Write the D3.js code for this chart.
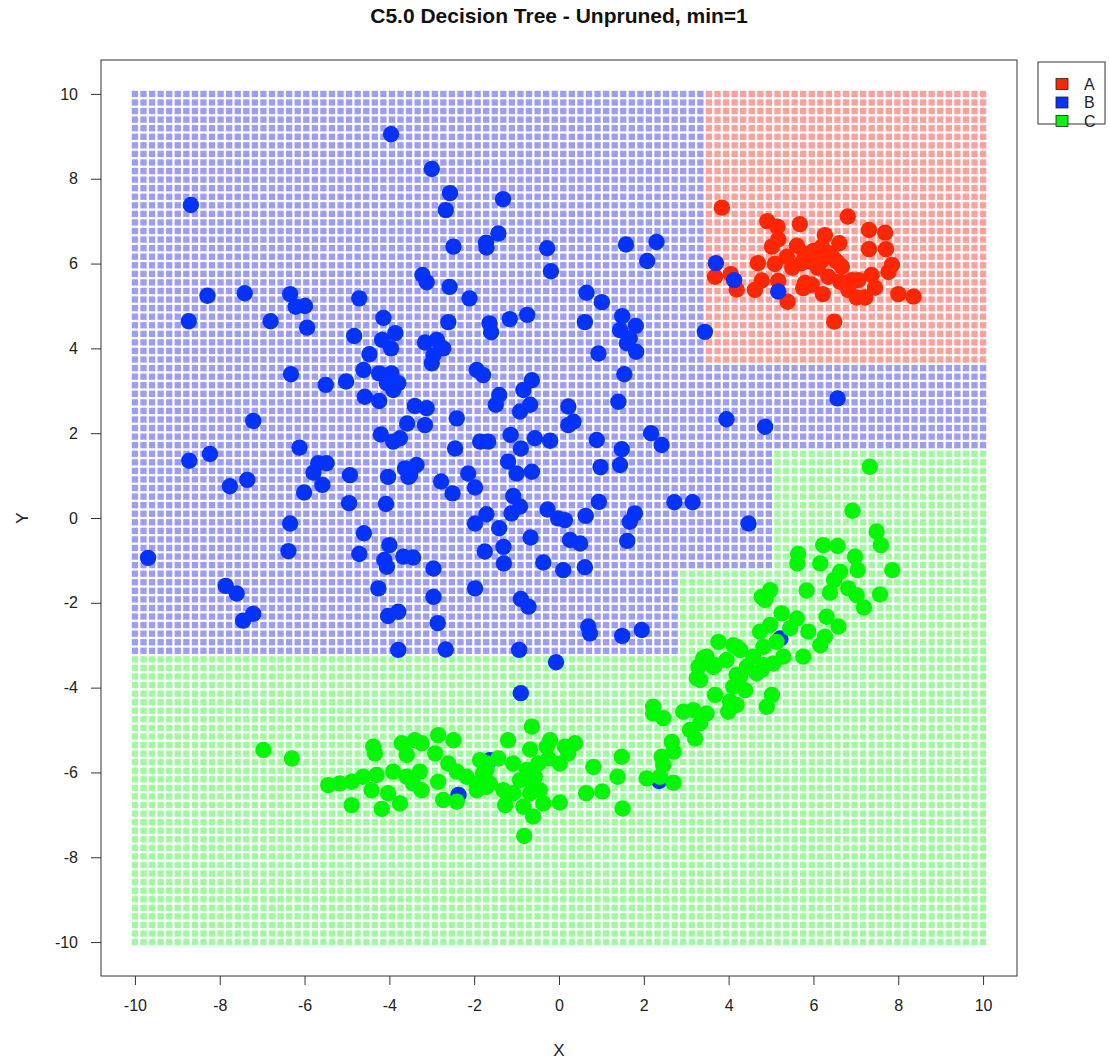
<!DOCTYPE html>
<html>
<head>
<meta charset="utf-8">
<script src="https://cdn.jsdelivr.net/npm/d3@7"></script>
<style>
  body { margin: 0; background: #fff; }
  svg { display: block; font-family: "Liberation Sans", Arial, Helvetica, sans-serif; }
</style>
</head>
<body>
<svg id="chart" width="1109" height="1063"></svg>
<script>
// ---- classes and colours ----
const classes = ["A", "B", "C"];
const pointColors = ["#ff2600", "#0433ff", "#00f900"];
const regionColors = ["#ff9f99", "#9c9cff", "#9cfc9c"];

// ---- axis ticks ----
const xTicks = [-10, -8, -6, -4, -2, 0, 2, 4, 6, 8, 10];
const yTicks = [-10, -8, -6, -4, -2, 0, 2, 4, 6, 8, 10];

// ---- split thresholds of the fitted tree ----
const splitTopX = 3.43;    // A vs B above splitTopY
const splitTopY = 3.62;
const splitBandY = 1.6;    // B band across the full width
const splitMidY = -1.2;
const splitMidX = 5.05;
const splitLowY = -3.23;
const splitLowX = 2.83;

// ---- observations ----
const aX = [3.84, 3.68, 4.05, 4.19, 4.91, 5.15, 5.17, 5.02, 5.68, 4.69, 5.09, 5.37, 5.61, 5.80, 5.72, 5.92, 4.78, 4.62, 5.17, 5.39, 5.80, 5.96, 5.76, 6.22, 6.27, 6.20, 6.39, 6.61, 6.20, 6.55, 6.67, 6.35, 6.81, 6.90, 6.82, 7.02, 7.22, 7.37, 7.45, 7.31, 7.69, 7.31, 7.71, 7.85, 7.77, 8.00, 8.36, 6.49, 6.63, 7.06, 6.00, 6.10, 5.50, 6.45];
const aY = [7.32, 5.69, 5.75, 5.39, 7.00, 6.87, 6.57, 6.40, 6.93, 6.01, 5.99, 6.16, 6.42, 6.23, 6.01, 6.05, 5.60, 5.38, 5.59, 5.10, 5.54, 5.50, 5.42, 5.28, 6.67, 6.40, 6.24, 6.48, 6.08, 6.05, 5.93, 5.69, 7.11, 5.61, 5.38, 5.20, 5.20, 5.73, 5.43, 6.79, 6.73, 6.34, 6.34, 5.97, 5.80, 5.28, 5.22, 4.63, 5.57, 5.61, 6.30, 5.90, 5.90, 6.15];

const bX = [-3.96, -8.68, -8.29, -7.41, -8.73, -6.80, -6.34, -6.21, -5.99, -5.94, -4.71, -4.14, -4.83, -3.86, -4.17, -3.96, -4.47,
  -3.00, -2.57, -2.67, -1.32, -2.49, -1.43, -1.72, -1.71, -0.28, -0.19, 1.58, 2.30, 2.08, -3.22, -3.12, -2.58, -2.11, -2.61, -1.64, -1.60, -1.16, -0.75, 0.65, 1.01, 0.61, 1.49, 1.81, 1.44, 1.67, 1.60, 1.82, 0.93, -3.16, -2.88, -2.73, -2.96,
  3.70, 4.13, 5.17, 3.44,
  -6.32, -5.50, -5.02, -4.61, -4.24, -3.95, -4.06, -3.79, -3.91, -4.58, -4.24, -3.40, -3.58, -7.21, -4.20, -3.91, -3.75, -6.12, -8.72, -8.23, -5.68, -5.48, -5.79, -5.58, -6.01, -4.93, -4.03, -3.63, -3.36, -3.55, -7.35, -7.76, -4.95, -4.08, -6.34, -6.38, -4.60, -4.71, -4.00, -4.12, -4.06, -3.67, -3.44, -4.26, -9.69, -7.86, -7.60,
  -3.00, -1.94, -1.79, 1.54, 1.40, -0.64, -0.84, -1.41, -1.49, -0.68, -0.92, 0.22, 0.34, 0.22, -3.12, -3.16, -2.41, -2.45, -1.86, -1.67, -1.14, -0.90, -0.57, -0.21, 0.89, 2.17, 2.42, 1.48, 1.44, 0.98, -3.51, -1.20, -1.00, -0.64, -2.14, -1.98, -2.78, -2.51, -1.08, -0.92, -1.12, -1.71, -1.98, -1.41, -0.27, -0.02, 0.14, 0.63, 0.94, 1.79, 1.67, 1.61, 2.72, 3.15, -0.67, 0.26, 0.50, -1.31, -1.75, -1.30, -0.37, 0.10, 0.61, -2.96, -1.98, -2.96, -0.90,
  6.57, 3.95, 4.86, 4.47,
  -7.21, -7.45, -3.79, -4.03, -2.86, -3.79, -2.67, -2.37,
  -0.72, 0.69, 0.73, 1.49, 1.95, -0.94, -0.07, -0.90, -1.63, 2.36, 5.22];
const bY = [9.05, 7.38, 5.24, 5.30, 4.64, 4.64, 5.28, 4.98, 5.00, 4.49, 5.18, 4.72, 4.29, 4.36, 4.20, 4.00, 3.86,
  8.23, 7.66, 7.26, 7.52, 6.40, 6.71, 6.49, 6.38, 6.36, 5.82, 6.45, 6.51, 6.06, 5.73, 5.56, 5.45, 5.18, 4.62, 4.59, 4.38, 4.69, 4.79, 5.31, 5.09, 4.62, 4.76, 4.53, 4.43, 4.24, 4.12, 3.92, 3.88, 4.14, 4.20, 4.00, 3.84,
  6.01, 5.61, 5.34, 4.39,
  3.39, 3.14, 3.22, 3.49, 3.41, 3.41, 3.18, 3.18, 3.02, 2.86, 2.76, 2.64, 2.23, 2.29, 1.97, 1.80, 1.88, 1.66, 1.35, 1.51, 1.29, 1.29, 1.07, 0.78, 0.60, 1.01, 0.97, 1.17, 1.25, 0.97, 0.90, 0.75, 0.35, 0.33, -0.13, -0.78, -0.36, -0.85, -0.64, -0.99, -1.15, -0.91, -0.93, -1.66, -0.94, -1.60, -1.78,
  3.65, 3.49, 3.37, 3.39, 2.74, 3.25, 3.02, 2.90, 2.67, 2.67, 2.51, 2.63, 2.27, 2.19, 2.59, 2.19, 2.35, 1.64, 1.80, 1.80, 1.96, 1.64, 1.88, 1.82, 1.84, 2.00, 1.72, 1.62, 1.25, 1.20, 1.01, 1.33, 1.05, 1.09, 1.05, 0.72, 0.86, 0.58, 0.52, 0.27, 0.11, 0.09, -0.13, -0.24, 0.20, -0.01, -0.05, 0.05, 0.38, 0.11, -0.09, -0.54, 0.37, 0.37, -0.46, -0.52, -0.60, -0.68, -0.79, -1.07, -1.05, -1.23, -1.16, -1.19, -1.66, -1.86, -1.91,
  2.82, 2.33, 2.15, -0.13,
  -2.26, -2.42, -2.21, -2.31, -2.48, -3.11, -3.10, -6.53,
  -2.09, -2.56, -2.72, -2.78, -2.64, -3.11, -3.40, -4.13, -5.71, -6.20, -2.84];

const cX = [7.33, 6.92, 7.49, 7.59, 6.23, 6.57, 5.64, 5.62, 6.16, 6.98, 7.04, 7.86, 6.63, 6.49, 4.98, 4.78, 5.84, 6.39, 6.82, 7.02, 7.57,
  7.19, 4.86, 6.31, 6.59, 5.25, 5.61, 5.45, 5.88, 6.16, 6.27, 5.76, 4.98, 4.74, 5.13, 5.29, 5.05, 4.82, 4.58, 4.43, 4.19, 3.76, 3.40, 3.33, 3.64, 3.95, 4.27, 4.66, 4.82, 4.11, 4.39, 3.68, 5.02,
  4.11, 4.27, 3.48, 3.29, 3.25, 3.68, 4.19, 4.78, 4.90, 3.99, 4.03, 4.19, 2.22, 2.46, 2.22, 2.93, 3.17, 3.48, 3.33, 3.09, 3.21, 2.66, 2.70, 2.42, 2.46, 2.07, 2.70, 2.38, 1.48, 0.81, 1.38, 0.64, 1.02, 1.50,
  -0.64, -1.20, -0.21, -0.68, 0.38, 0.22, 0.02, -0.25, -0.49, -0.76, -1.08, -1.43, -1.71, -1.63, -1.31, -1.08, -0.61, -0.45, -0.37, -0.84, -0.61, 0.02, -0.82, -1.27, -0.68, -0.29, 0.14, -0.57, -0.92,
  -6.97, -6.30, -5.44, -5.17, -4.89, -4.62, -4.30, -4.89, -4.42, -4.03, -4.18, -3.75, -4.38, -4.34, -3.91, -3.59, -3.28, -3.44, -3.71, -3.40, -3.59, -3.24, -2.85, -2.49, -2.92, -2.85, -3.24, -2.61, -2.41, -2.18, -1.86, -1.94, -1.71, -1.94, -2.73, -2.41, -1.71, -1.79];
const cY = [1.21, 0.17, -0.32, -0.64, -0.64, -0.66, -0.85, -1.07, -1.07, -0.91, -1.23, -1.23, -1.27, -1.46, -1.70, -1.86, -1.71, -1.76, -1.66, -1.82, -1.80,
  -2.11, -1.93, -2.33, -2.56, -2.25, -2.37, -2.60, -2.68, -3.00, -2.80, -3.27, -2.52, -2.68, -2.92, -3.27, -3.43, -3.04, -3.27, -3.51, -3.04, -2.92, -3.31, -3.82, -3.51, -3.35, -3.74, -3.66, -3.47, -3.98, -4.06, -4.17, -4.17,
  -3.00, -3.11, -3.27, -3.51, -3.78, -3.47, -3.70, -3.58, -4.45, -4.57, -4.33, -4.41, -4.45, -4.72, -4.61, -4.57, -4.53, -4.61, -4.84, -5.00, -5.20, -5.28, -5.51, -5.63, -5.83, -6.14, -6.24, -6.10, -5.63, -5.87, -6.10, -6.49, -6.45, -6.85,
  -4.92, -5.24, -5.24, -5.46, -5.31, -5.55, -5.79, -5.67, -5.79, -5.94, -5.79, -5.67, -5.94, -6.26, -6.42, -6.49, -6.26, -6.42, -6.73, -6.81, -7.04, -6.71, -7.50, -6.77, -6.49, -5.39, -5.39, -6.10, -6.18,
  -5.47, -5.67, -6.30, -6.26, -6.22, -6.10, -6.06, -6.77, -6.42, -6.49, -6.86, -6.73, -5.39, -5.55, -5.98, -6.10, -5.98, -6.26, -5.31, -5.24, -5.59, -5.31, -5.12, -5.24, -5.55, -6.22, -6.42, -5.79, -5.98, -6.10, -5.71, -6.26, -6.34, -6.42, -6.65, -6.69, -5.79, -6.02];

// ---- layout ----
const plotL = 101, plotR = 1017, plotT = 60, plotB = 976;

const svg = d3.select("#chart");
const x = d3.scaleLinear().domain([-10.8, 10.8]).range([plotL, plotR]);
const y = d3.scaleLinear().domain([-10.8, 10.8]).range([plotB, plotT]);

// Predicted class of the tree at a location (index into classes).
function predict(px, py) {
  if (py < splitLowY) return 2;
  if (py > splitTopY && px > splitTopX) return 0;
  if (py > splitBandY) return 1;
  if (py > splitMidY) return px < splitMidX ? 1 : 2;
  return px < splitLowX ? 1 : 2;
}

// ---- prediction lattice: 100 x 100 evaluation points over [-10, 10] ----
const lattice = d3.range(100).map(i => -10 + i * 20 / 99);
const cells = [];
lattice.forEach(gx => lattice.forEach(gy => cells.push({ gx, gy, k: predict(gx, gy) })));

const cs = 6.3;
svg.append("g")
  .selectAll("rect")
  .data(cells)
  .join("rect")
  .attr("x", d => x(d.gx) - cs / 2)
  .attr("y", d => y(d.gy) - cs / 2)
  .attr("width", cs)
  .attr("height", cs)
  .attr("fill", d => regionColors[d.k]);

// ---- observations ----
const series = [
  { k: 0, xs: aX, ys: aY },
  { k: 1, xs: bX, ys: bY },
  { k: 2, xs: cX, ys: cY }
];
const gPts = svg.append("g");
series.forEach(s => {
  gPts.append("g")
    .selectAll("circle")
    .data(d3.range(s.xs.length))
    .join("circle")
    .attr("cx", i => x(s.xs[i]))
    .attr("cy", i => y(s.ys[i]))
    .attr("r", 8.2)
    .attr("fill", pointColors[s.k]);
});

// ---- frame and axes ----
svg.append("rect")
  .attr("x", plotL).attr("y", plotT)
  .attr("width", plotR - plotL).attr("height", plotB - plotT)
  .attr("fill", "none").attr("stroke", "#333").attr("stroke-width", 1);

const xAxis = svg.append("g")
  .attr("transform", `translate(0,${plotB})`)
  .call(d3.axisBottom(x).tickValues(xTicks).tickSize(9).tickPadding(15).tickFormat(d => String(d)));
const yAxis = svg.append("g")
  .attr("transform", `translate(${plotL},0)`)
  .call(d3.axisLeft(y).tickValues(yTicks).tickSize(10).tickPadding(13).tickFormat(d => String(d)));
[xAxis, yAxis].forEach(g => {
  g.select(".domain").remove();
  g.selectAll(".tick line").attr("stroke", "#333");
  g.selectAll(".tick text")
    .attr("fill", "#222")
    .style("font-size", "16px")
    .style("font-family", "'Liberation Sans', Arial, sans-serif");
});

// ---- titles ----
svg.append("text")
  .attr("x", (plotL + plotR) / 2).attr("y", 23)
  .attr("text-anchor", "middle")
  .style("font-size", "21px").style("font-weight", "bold")
  .attr("fill", "#111")
  .text("C5.0 Decision Tree - Unpruned, min=1");
svg.append("text")
  .attr("x", (plotL + plotR) / 2).attr("y", 1056)
  .attr("text-anchor", "middle")
  .style("font-size", "17px").attr("fill", "#222")
  .text("X");
svg.append("text")
  .attr("transform", `translate(28,${(plotT + plotB) / 2}) rotate(-90)`)
  .attr("text-anchor", "middle")
  .style("font-size", "17px").attr("fill", "#222")
  .text("Y");

// ---- legend ----
const leg = svg.append("g").attr("transform", "translate(1038,62)");
leg.append("rect")
  .attr("width", 67).attr("height", 62)
  .attr("fill", "#fff").attr("stroke", "#333");
classes.forEach((c, i) => {
  const cy = 22 + i * 18.5;
  leg.append("rect")
    .attr("x", 18).attr("y", cy - 5.5)
    .attr("width", 12).attr("height", 11)
    .attr("fill", pointColors[i]).attr("stroke", "#222").attr("stroke-width", 0.8);
  leg.append("text")
    .attr("x", 46).attr("y", cy + 5.5)
    .style("font-size", "16px").attr("fill", "#222")
    .text(c);
});
</script>
</body>
</html>
